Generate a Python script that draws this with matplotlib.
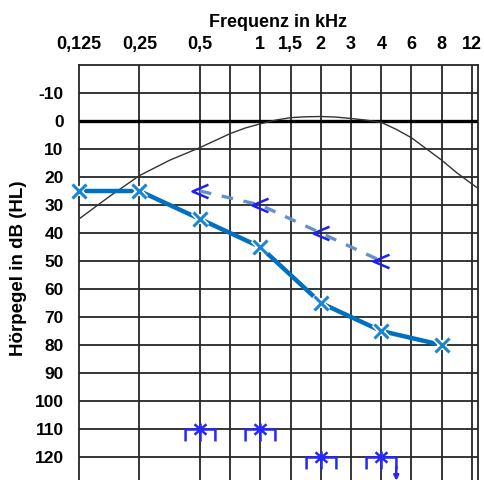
import matplotlib
matplotlib.use("Agg")
import matplotlib.pyplot as plt
from matplotlib.path import Path
from matplotlib.transforms import ScaledTranslation

plt.rcParams['font.family'] = ['Liberation Sans', 'DejaVu Sans']

# ---- data ----
freq_labels = ["0,125", "0,25", "0,5", "1", "1,5", "2", "3", "4", "6", "8", "12"]
freq_khz = [0.125, 0.25, 0.5, 1, 1.5, 2, 3, 4, 6, 8, 12]
grid_khz = [0.25, 0.5, 0.75, 1, 1.5, 2, 3, 4, 6, 8, 12]
axis_pos = {0.125: 0, 0.25: 2, 0.5: 4, 0.75: 5, 1: 6, 1.5: 7, 2: 8, 3: 9,
            4: 10, 6: 11, 8: 12, 12: 13}

db_ticks = [-10, 0, 10, 20, 30, 40, 50, 60, 70, 80, 90, 100, 110, 120]

air_khz = [0.125, 0.25, 0.5, 1, 2, 4, 8]
air_db = [25, 25, 35, 45, 65, 75, 80]

bone_khz = [0.5, 1, 2, 4]
bone_db = [25, 30, 40, 50]

mask_khz = [0.5, 1, 2, 4]
mask_db = [110, 110, 120, 120]
mask_arrow_khz = [4]
mask_arrow_db = [120]

# reference threshold curve (axis position units, dB)
curve_pos = [0, 1, 2, 3, 4, 4.5, 5, 5.5, 6, 6.5, 7, 7.5, 8, 8.5, 9, 9.5,
             10, 10.5, 11, 11.5, 12, 12.5, 13, 13.2]
curve_db = [35, 27, 19.5, 14, 9.5, 7, 4.5, 2.5, 1, -0.3, -1.2, -1.5, -1.6,
            -1.4, -0.9, -0.3, 0.5, 3, 6, 10, 14, 18.5, 22.5, 24]

# ---- figure ----
W, H = 485, 480
fig = plt.figure(figsize=(W / 100, H / 100), dpi=100)
ax_left, ax_right, ax_top, ax_bot = 79, 478, 65, 485
ax = fig.add_axes([ax_left / W, 1 - ax_bot / H, (ax_right - ax_left) / W,
                   (ax_bot - ax_top) / H])
ax.set_xlim(0, 13.2)
ax.set_ylim(130, -20)

gridc = '#262626'
for k in grid_khz:
    ax.axvline(axis_pos[k], color=gridc, lw=1.3, zorder=1)
for d in range(-10, 131, 10):
    ax.axhline(d, color=gridc, lw=1.3, zorder=1)
ax.axhline(0, color='black', lw=2.4, zorder=2)
for s in ax.spines.values():
    s.set_color(gridc)
    s.set_linewidth(1.3)

ax.xaxis.tick_top()
ax.set_xticks([axis_pos[k] for k in freq_khz])
ax.set_xticklabels(freq_labels, fontsize=13, fontweight='bold')
ax.set_yticks(db_ticks)
ax.set_yticklabels([str(v) for v in db_ticks], fontsize=12.5, fontweight='bold')
ax.tick_params(axis='both', length=0)
ax.tick_params(axis='x', pad=9)
ax.tick_params(axis='y', pad=11)
ax.xaxis.set_label_position('top')
ax.set_xlabel('Frequenz in kHz', fontsize=13, fontweight='bold', labelpad=6)
ax.set_ylabel('Hörpegel in dB (HL)', fontsize=13.5, fontweight='bold')
ax.yaxis.set_label_coords(-0.13, 0.517)

# threshold curve
ax.plot(curve_pos, curve_db, color='#333333', lw=1.0, zorder=3, clip_on=True)

# air conduction
ax.plot([axis_pos[k] for k in air_khz], air_db, color='#0070C0', lw=3.2,
        zorder=4, solid_capstyle='butt')
ax.plot([axis_pos[k] for k in air_khz], air_db, ls='none', marker='x',
        ms=10.5, mew=4.5, color='white', zorder=5, clip_on=False)
ax.plot([axis_pos[k] for k in air_khz], air_db, ls='none', marker='x',
        ms=10.5, mew=2.2, color='#1C86D1', zorder=6, clip_on=False)

# bone conduction
chev = Path([(1, 0.85), (-1, 0), (1, -0.85)], [Path.MOVETO, Path.LINETO, Path.LINETO])
ax.plot([axis_pos[k] for k in bone_khz], bone_db, color='#6690CB', lw=2.4,
        ls=(0, (3.5, 3.2)), zorder=4)
ax.plot([axis_pos[k] for k in bone_khz], bone_db, ls='none', marker=chev,
        ms=11.5, mew=1.8, mfc='none', mec='#1F1FF5', zorder=6)

# masked symbols
brk = Path([(-1, -0.8), (-1, 0), (1, 0), (1, -0.8),
            (-0.4, 0.35), (0.4, -0.35), (-0.4, -0.35), (0.4, 0.35),
            (0, 0.4), (0, -0.8)],
           [Path.MOVETO, Path.LINETO, Path.LINETO, Path.LINETO,
            Path.MOVETO, Path.LINETO, Path.MOVETO, Path.LINETO,
            Path.MOVETO, Path.LINETO])
ax.plot([axis_pos[k] for k in mask_khz], mask_db, ls='none', marker=brk,
        ms=21.5, mew=1.8, mfc='none', mec='#2727F7', zorder=6, clip_on=False)
off = ax.transData + ScaledTranslation(15 / 100, 0, fig.dpi_scale_trans)
for k, v in zip(mask_arrow_khz, mask_arrow_db):
    ax.annotate('', xy=(axis_pos[k], v + 8.5), xytext=(axis_pos[k], v + 3.5),
                xycoords=off, textcoords=off, annotation_clip=False,
                arrowprops=dict(arrowstyle='-|>', color='#2727F7', lw=1.8,
                                mutation_scale=7, shrinkA=0, shrinkB=0))

fig.savefig('out.png', dpi=100)
